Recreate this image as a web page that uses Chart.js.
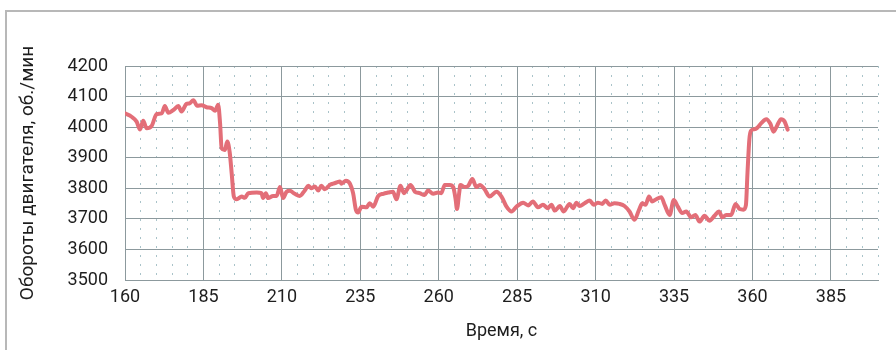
<!DOCTYPE html>
<html lang="ru">
<head>
<meta charset="utf-8">
<title>Обороты двигателя</title>
<script src="https://cdn.jsdelivr.net/npm/chart.js@4.4.1/dist/chart.umd.min.js"></script>
<style>
  html, body { margin: 0; padding: 0; background: #fff; }
  #wrap { position: relative; width: 896px; height: 350px; overflow: hidden; }
  #frame {
    position: absolute; left: 5px; top: 10px; right: -4px; bottom: -4px;
    border-top: 2px solid #b8b8b8; border-left: 2px solid #b8b8b8;
  }
  canvas { position: absolute; left: 0; top: 0; }
</style>
</head>
<body>
<div id="wrap">
  <div id="frame"></div>
  <canvas id="rpmChart" width="896" height="350"></canvas>
</div>
<script>
// Engine speed log, seconds vs rpm
const seconds = [
  160, 162.1, 163.7, 164.8, 165.8, 166.9, 168.5, 170.1, 171.7, 172.7,
  173.8, 175.4, 177.0, 178.0, 179.6, 180.6, 181.8, 183.0, 184.4, 186.0,
  187.6, 188.7, 189.7, 190.3, 190.8, 191.8, 192.6, 193.4, 194.0, 194.7,
  195.6, 197.2, 198.2, 199.3, 202.0, 203.5, 204.0, 204.9, 205.6, 207.2,
  208.3, 209.4, 210.4, 211.5, 212.5, 214.1, 215.7, 217.3, 218.4, 219.5,
  220.5, 221.6, 222.6, 223.7, 225.3, 226.3, 227.4, 228.5, 229.0, 230.4,
  231.7, 232.7, 233.6, 234.3, 235.4, 237.0, 238.0, 239.1, 240.7, 242.3,
  243.9, 245.4, 246.5, 247.8, 248.9, 249.7, 251.0, 252.4, 253.9, 255.5,
  256.6, 258.2, 259.8, 260.8, 261.9, 263.5, 264.6, 265.4, 265.8, 266.5,
  266.9, 268.3, 269.4, 270.7, 272.0, 273.1, 274.6, 276.2, 278.4, 280.0,
  281.6, 283.2, 284.8, 286.9, 288.5, 290.0, 291.6, 293.2, 294.8, 295.9,
  297.0, 298.6, 299.8, 301.7, 302.8, 303.9, 304.9, 306.5, 308.1, 309.4,
  310.7, 312.1, 313.2, 314.5, 316.0, 317.6, 319.2, 320.8, 322.4, 323.8,
  324.9, 325.9, 327.0, 328.0, 329.3, 330.9, 332.0, 333.6, 334.9, 336.2,
  337.6, 338.9, 340.5, 341.8, 343.1, 344.7, 346.3, 347.9, 349.3, 350.4,
  351.6, 353.2, 354.6, 355.9, 357.1, 357.9, 358.4, 359.0, 359.5, 360.5,
  361.4, 362.8, 364.4, 365.7, 366.7, 367.8, 369.1, 370.2, 371.2
];

const rpm = [
  4045, 4034, 4018, 3992, 4021, 3996, 4004, 4043, 4045, 4069,
  4047, 4056, 4069, 4051, 4076, 4078, 4088, 4070, 4072, 4065,
  4062, 4054, 4073, 4013, 3931, 3925, 3953, 3915, 3849, 3773,
  3764, 3773, 3769, 3784, 3786, 3784, 3768, 3784, 3768, 3775,
  3775, 3804, 3768, 3789, 3792, 3782, 3775, 3793, 3808, 3800,
  3806, 3793, 3808, 3797, 3811, 3815, 3819, 3822, 3815, 3825,
  3815, 3784, 3729, 3721, 3740, 3738, 3751, 3740, 3775, 3782,
  3786, 3789, 3764, 3808, 3784, 3793, 3811, 3789, 3784, 3778,
  3793, 3782, 3786, 3784, 3811, 3811, 3804, 3762, 3732, 3784,
  3811, 3804, 3808, 3830, 3804, 3811, 3797, 3773, 3789, 3773,
  3740, 3724, 3740, 3753, 3744, 3757, 3738, 3746, 3735, 3746,
  3727, 3742, 3724, 3749, 3735, 3753, 3742, 3751, 3760, 3746,
  3753, 3749, 3760, 3746, 3751, 3749, 3742, 3724, 3697, 3729,
  3751, 3746, 3773, 3757, 3764, 3771, 3746, 3713, 3762, 3740,
  3719, 3724, 3705, 3713, 3691, 3710, 3694, 3710, 3724, 3705,
  3713, 3713, 3749, 3732, 3730, 3745, 3850, 3960, 3988, 3993,
  3997, 4013, 4026, 4011, 3985, 4004, 4026, 4019, 3992
];

const timeTicks = [160, 185, 210, 235, 260, 285, 310, 335, 360, 385];
const rpmTicks = [3500, 3600, 3700, 3800, 3900, 4000, 4100, 4200];

const MAJOR_GRID = '#8c999d';
const MINOR_GRID = '#a9c3c9';
const TEXT_COLOR = '#1e1e1e';
const FONT = { family: 'Roboto, "Liberation Sans", sans-serif', size: 18 };
const TITLE_FONT = { family: 'Roboto, "Liberation Sans", sans-serif', size: 19 };

const isMajorTime = (v) => timeTicks.includes(v);

const points = seconds.map((t, i) => ({ x: t, y: rpm[i] }));

const ctx = document.getElementById('rpmChart').getContext('2d');
const chart = new Chart(ctx, {
  type: 'line',
  data: {
    datasets: [{
      data: points,
      borderColor: '#e36e78',
      borderWidth: 4,
      pointRadius: 0,
      fill: false,
      tension: 0.4,
      cubicInterpolationMode: 'monotone',
      borderJoinStyle: 'round',
      borderCapStyle: 'round'
    }]
  },
  options: {
    responsive: false,
    animation: false,
    layout: {
      padding: { top: 66, right: 18, bottom: 0, left: 0 }
    },
    plugins: {
      legend: { display: false },
      tooltip: { enabled: false }
    },
    scales: {
      x: {
        type: 'linear',
        min: 160,
        max: 400,
        afterFit: (scale) => { scale.height = 70; },
        ticks: {
          stepSize: 5,
          autoSkip: false,
          maxRotation: 0,
          padding: 7,
          color: TEXT_COLOR,
          font: FONT,
          callback: (value) => (isMajorTime(value) ? String(value) : '')
        },
        grid: {
          drawTicks: false,
          lineWidth: 1,
          color: (c) => (c.tick && !isMajorTime(c.tick.value) ? MINOR_GRID : MAJOR_GRID)
        },
        border: {
          display: true,
          color: MAJOR_GRID,
          dash: (c) => (c.tick && !isMajorTime(c.tick.value) ? [2, 7] : [])
        },
        title: {
          display: true,
          text: 'Время, с',
          color: TEXT_COLOR,
          font: FONT,
          padding: { top: 0, bottom: 8 }
        }
      },
      y: {
        min: rpmTicks[0],
        max: rpmTicks[rpmTicks.length - 1],
        afterFit: (scale) => { scale.width = 125; },
        ticks: {
          stepSize: 100,
          padding: 17,
          color: TEXT_COLOR,
          font: FONT,
          callback: (value) => String(value)
        },
        grid: {
          drawTicks: false,
          lineWidth: 1,
          color: MAJOR_GRID
        },
        border: {
          display: true,
          color: MAJOR_GRID
        },
        title: {
          display: true,
          text: 'Обороты двигателя, об./мин',
          color: TEXT_COLOR,
          font: TITLE_FONT,
          padding: { top: 17, bottom: 0 }
        }
      }
    }
  }
});
</script>
</body>
</html>
